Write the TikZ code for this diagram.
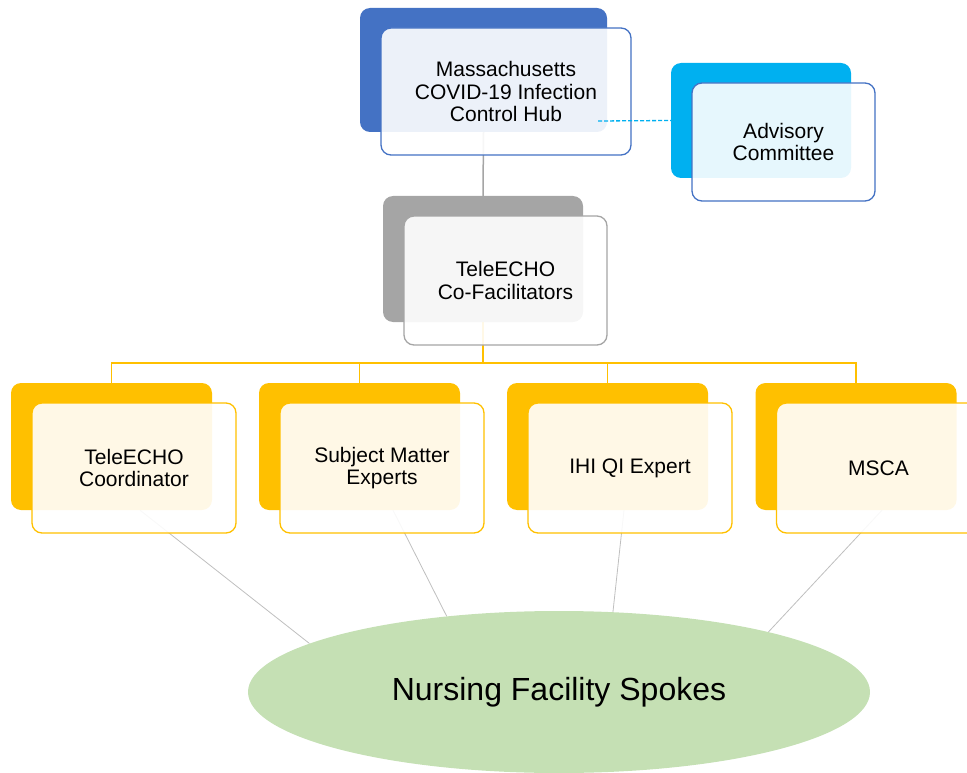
\documentclass[tikz,border=0pt]{standalone}
\usepackage{fontspec}
\setmainfont{Liberation Sans}
\usepackage{xcolor}
\usetikzlibrary{shapes.geometric, backgrounds, calc}

\definecolor{hubBlue}{HTML}{4472C4}
\definecolor{advisoryCyan}{HTML}{00B0F0}
\definecolor{facilitatorGray}{HTML}{A5A5A5}
\definecolor{teamGold}{HTML}{FFC000}
\definecolor{spokeGreen}{HTML}{C5E0B4}
\definecolor{spokeGray}{HTML}{BFBFBF}

\tikzset{
	backBox/.style = {rectangle, rounded corners = 10, inner sep = 0},
	frontBox/.style = {rectangle, rounded corners = 10, line width = 1.3, fill = white, fill opacity = 0.9, text opacity = 1, inner sep = 0, align = center, font = \fontsize{21}{22.5}\selectfont},
	linkLine/.style = {draw = facilitatorGray, line width = 1.5},
	treeLine/.style = {draw = teamGold, line width = 1.5},
	spokeLine/.style = {draw = spokeGray, line width = 0.8},
	dashLink/.style = {draw = advisoryCyan, line width = 1.3, dash pattern = on 4pt off 2pt}
}

\begin{document}
\begin{tikzpicture}[x = 1pt, y = -1pt]
					\useasboundingbox (0,0) rectangle (967,773);

					\def\teamY{446.5};
					\def\teamW{201};
					\def\teamH{127};

					\newcommand{\drawTwinBox}[8]
					{
						\node [backBox, fill = #6, minimum width = #4, minimum height = #5] (#1Back) at (#2,#3) {};
						\node [frontBox, draw = #7, minimum width = #4 + 3, minimum height = #5 + 3] (#1) at (#2 + 22.5,#3 + 21.5) {#8};
					}

					\begin{scope}
						\drawTwinBox{hub}{483.5}{70}{247}{124}{hubBlue}{hubBlue}{Massachusetts\\COVID-19 Infection\\Control Hub};
						\drawTwinBox{advisory}{761}{120.5}{180}{115}{advisoryCyan}{hubBlue}{Advisory\\Committee};
						\drawTwinBox{facilitators}{483}{259}{200}{126}{facilitatorGray}{facilitatorGray}{TeleECHO\\Co-Facilitators};
					\end{scope}

					\begin{scope}
						\drawTwinBox{coordinator}{111.5}{\teamY}{\teamW}{\teamH}{teamGold}{teamGold}{TeleECHO\\Coordinator};
						\drawTwinBox{experts}{359.5}{\teamY}{\teamW}{\teamH}{teamGold}{teamGold}{Subject Matter\\Experts};
						\drawTwinBox{qiExpert}{607.5}{\teamY}{\teamW}{\teamH}{teamGold}{teamGold}{IHI QI Expert};
						\drawTwinBox{msca}{856}{\teamY}{\teamW}{\teamH}{teamGold}{teamGold}{MSCA};
					\end{scope}

					\node [ellipse, fill = spokeGreen, minimum width = 622, minimum height = 162, inner sep = 0, font = \fontsize{32}{36}\selectfont] (spokes) at (559,692) {Nursing Facility Spokes};

					\begin{scope}[on background layer]
						\draw [linkLine] (hubBack.south) -- (facilitatorsBack.north);
						\foreach \member in {coordinator, experts, qiExpert, msca}
							\draw [treeLine] (facilitatorsBack.south) -- ++(0,41) -| (\member Back.north);
						\foreach \member/\shift/\angle in {coordinator/28.5/169, experts/33.5/146, qiExpert/16.5/56, msca/26/16}
							\draw [spokeLine] ([xshift = \shift] \member Back.south) -- (spokes.\angle);
					\end{scope}

					\coordinate (hubTap) at (598,121);
					\draw [dashLink] (hubTap) -- (advisoryBack.west);
				\end{tikzpicture}
\end{document}
